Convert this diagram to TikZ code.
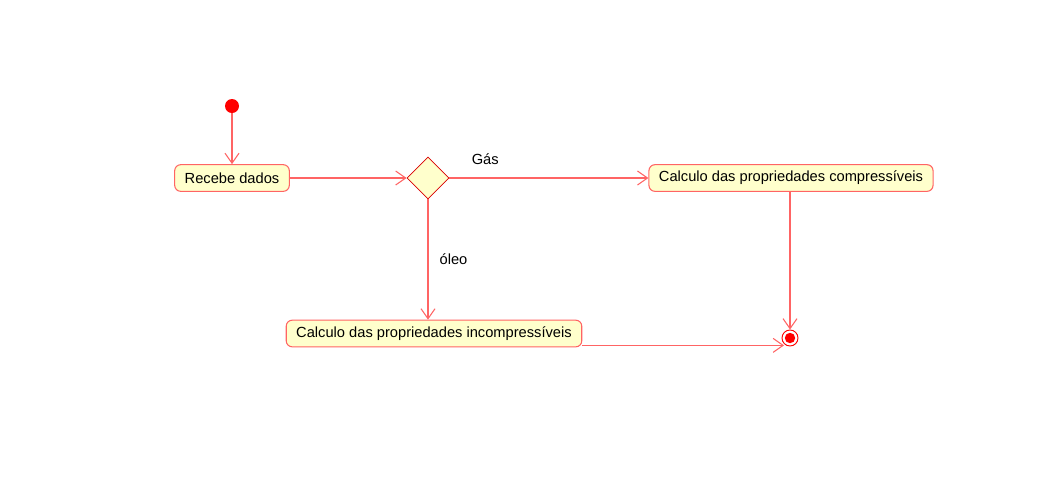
\documentclass[tikz,border=0pt]{standalone}
\usepackage{fontspec}
\setmainfont{Liberation Sans}
\usetikzlibrary{arrows.meta,shapes.geometric}
\definecolor{linha}{RGB}{255,100,100}
\definecolor{caixa}{RGB}{255,255,204}
\tikzset{
  atividade/.style={draw=linha, fill=caixa, line width=0.8pt, rounded corners=4.5pt,
    minimum height=20pt, inner xsep=7.5pt, font=\fontsize{11}{13}\selectfont},
  decisao/.style={diamond, draw=red!85!black, fill=caixa, line width=0.6pt,
    minimum width=31.5pt, minimum height=31.5pt, inner sep=0pt},
  inicio/.style={circle, fill=red, inner sep=0pt, minimum size=10.5pt},
  fim/.style={circle, draw=red, line width=0.7pt, fill=white, inner sep=0pt, minimum size=12pt},
  seta/.style={draw=linha, line width=0.8pt, -{Straight Barb[length=7.5pt,width=10.5pt]}},
  rotulo/.style={font=\fontsize{11}{13}\selectfont}
}
\begin{document}
\begin{tikzpicture}[x=0.75pt,y=-0.75pt]
				\useasboundingbox (0,0) rectangle (1040,487);
				
				\node[inicio] (ini) at (232,106) {};
				\node[atividade] (rec) at (232,178) {Recebe dados};
				\node[decisao] (dec) at (428,178) {};
				\node[atividade] (comp) at (791,178) {Calculo das propriedades compressíveis};
				\node[atividade] (inc) at (434,333.5) {Calculo das propriedades incompressíveis};
				\node[fim] (final) at (790,338) {};
				\fill[red] (final) circle (3.9pt);
				\coordinate (saida) at ([yshift=1.5pt]inc.south east);
				
				\draw[seta] (ini) -- (rec);
				\draw[seta] (rec) -- (dec);
				\draw[seta] (dec) -- node[rotulo, pos=0.18, above=6pt] {Gás} (comp);
				\draw[seta] (dec) -- node[rotulo, pos=0.5, right=5pt] {óleo} (dec |- inc.north);
				\draw[seta] (comp.south -| final) -- (final);
				\draw[seta] (saida) -- (saida -| final.south west);
\end{tikzpicture}
\end{document}
